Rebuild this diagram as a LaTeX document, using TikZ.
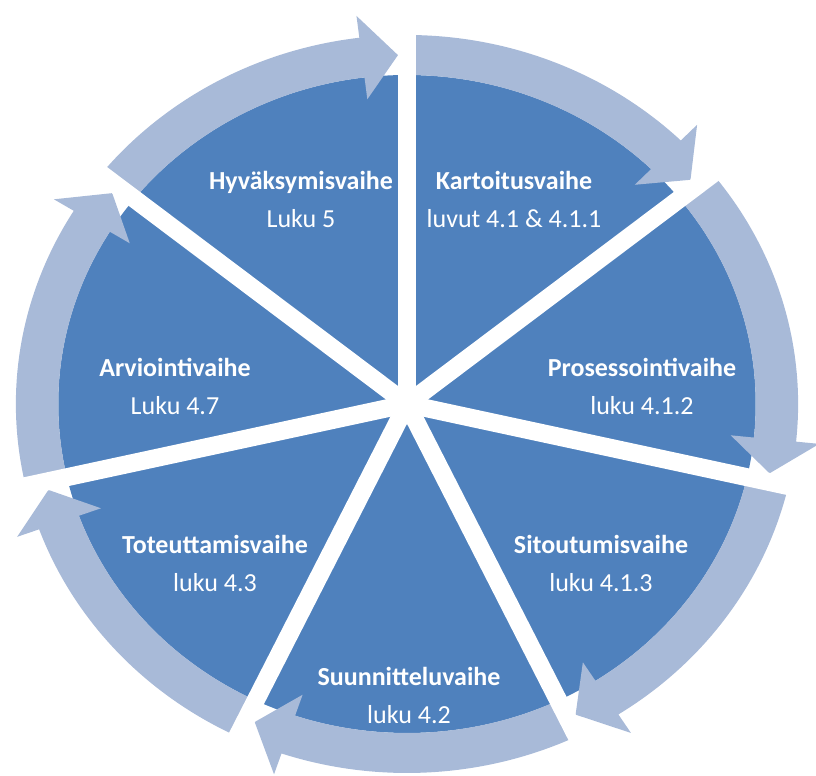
\documentclass[tikz,border=0pt]{standalone}
\usepackage{fontspec}
\setmainfont{Carlito}
\usepackage{tikz}
\definecolor{phaseblue}{RGB}{79,129,189}
\definecolor{ringblue}{RGB}{168,186,216}

% curved ring arrow of one phase, from angle #1 clockwise to angle #2
\newcommand{\phasearrow}[2]{%
\fill[ringblue] ({#1}:369) arc[start angle={#1}, end angle={#2+7}, radius=369]
  -- ({#2+7}:391) -- ({#2+1.4}:349) -- ({#2+7}:307) -- ({#2+7}:329)
  arc[start angle={#2+7}, end angle={#1}, radius=329] -- cycle;}

\begin{document}
\begin{tikzpicture}[x=0.5pt, y=0.5pt,
  phase/.style={text=white, align=center, font=\fontsize{13}{19}\selectfont},
  gap/.style={white, line width=9pt}]
\useasboundingbox (-407,-372) rectangle (409,404);
\coordinate (c) at (0,0);
\begin{scope}[xscale=1.06]
\fill[phaseblue] (c) circle (329);
\phasearrow{90}{38.571}
\phasearrow{38.571}{-12.857}
\phasearrow{-12.857}{-64.286}
\phasearrow{-64.286}{-115.714}
\phasearrow{-115.714}{-167.143}
\phasearrow{-167.143}{-218.571}
\phasearrow{141.429}{90}
\draw[gap] (c) -- (90:420);
\draw[gap] (c) -- (38.571:420);
\draw[gap] (c) -- (-12.857:420);
\draw[gap] (c) -- (-64.286:420);
\draw[gap] (c) -- (-115.714:420);
\draw[gap] (c) -- (-167.143:420);
\draw[gap] (c) -- (141.429:420);
\end{scope}
\node[phase] (kart) at (107,205) {\textbf{Kartoitusvaihe}\\luvut 4.1 \& 4.1.1};
\node[phase] (pros) at (235,18) {\textbf{Prosessointivaihe}\\luku 4.1.2};
\node[phase] (sito) at (194,-159) {\textbf{Sitoutumisvaihe}\\luku 4.1.3};
\node[phase] (suun) at (2,-291) {\textbf{Suunnitteluvaihe}\\luku 4.2};
\node[phase] (tote) at (-192,-159) {\textbf{Toteuttamisvaihe}\\luku 4.3};
\node[phase] (arvi) at (-232,18) {\textbf{Arviointivaihe}\\Luku 4.7};
\node[phase] (hyva) at (-106,205) {\textbf{Hyväksymisvaihe}\\Luku 5};
\end{tikzpicture}
\end{document}
